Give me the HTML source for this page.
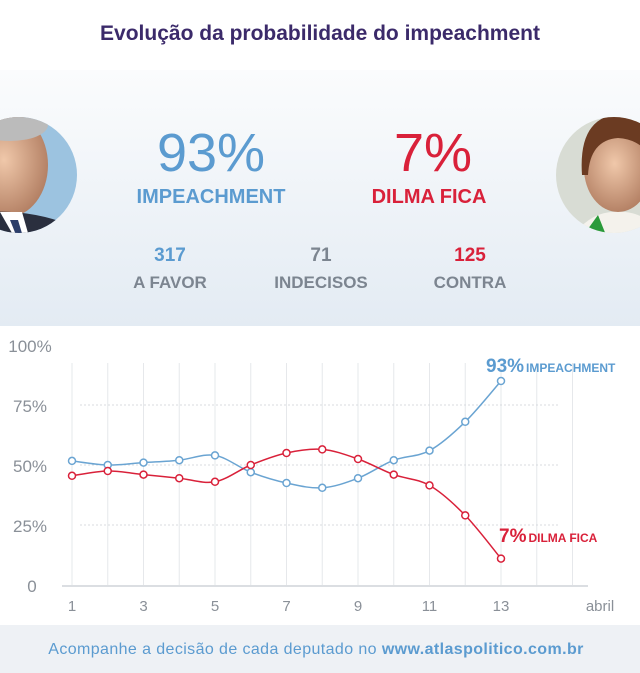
<!DOCTYPE html>
<html><head><meta charset="utf-8"><style>
body{margin:0;width:640px;height:673px;overflow:hidden;background:#fff;font-family:"Liberation Sans",sans-serif;position:relative}
.abs{position:absolute}
.c{transform:translateX(-50%);white-space:nowrap;text-align:center}
</style></head><body>
<div class="abs c" style="left:320px;top:22px;font-size:21px;font-weight:bold;color:#3b2a6a">Evolução da probabilidade do impeachment</div>
<div class="abs" style="left:0;top:70px;width:640px;height:256px;background:linear-gradient(#fbfcfd,#e3ebf3)"></div>
<svg class="abs" style="left:0;top:0" width="640" height="330">
<defs><radialGradient id="sk" cx="0.45" cy="0.45" r="0.6"><stop offset="0" stop-color="#f0c8aa"/><stop offset="1" stop-color="#b07c60"/></radialGradient>
<clipPath id="cl"><circle cx="19" cy="175" r="58"/></clipPath><clipPath id="cr"><circle cx="614" cy="175" r="58"/></clipPath></defs>
<g clip-path="url(#cl)"><rect x="-40" y="115" width="120" height="120" fill="#9cc3e0"/><ellipse cx="8" cy="165" rx="40" ry="52" fill="url(#sk)"/><ellipse cx="10" cy="125" rx="38" ry="16" fill="#bbb"/><path d="M-40 215 Q20 205 70 225 L70 240 L-40 240Z" fill="#2a2f3e"/><path d="M0 212 L16 240 L30 240 L22 212Z" fill="#fff"/><path d="M10 220 L18 240 L24 240 L18 220Z" fill="#2c3e6a"/></g>
<g clip-path="url(#cr)"><rect x="556" y="115" width="120" height="120" fill="#d8dcd4"/><ellipse cx="618" cy="168" rx="34" ry="44" fill="url(#sk)"/><path d="M582 175 Q578 118 618 114 Q660 116 656 175 Q650 140 618 138 Q590 140 588 175Z" fill="#6b3b22"/><path d="M570 240 Q590 210 618 212 Q645 210 670 240Z" fill="#f4f2ec"/><path d="M580 240 L598 215 L608 240Z" fill="#2a9a3a"/></g>
</svg>
<div class="abs c" style="left:211px;top:122px;font-size:54px;color:#5b9bd0;font-weight:300">93%</div>
<div class="abs c" style="left:211px;top:186px;font-size:20px;font-weight:bold;color:#5b9bd0">IMPEACHMENT</div>
<div class="abs c" style="left:433px;top:122px;font-size:54px;color:#d9213a">7%</div>
<div class="abs c" style="left:429px;top:186px;font-size:20px;font-weight:bold;color:#d9213a">DILMA FICA</div>
<div class="abs c" style="left:170px;top:245px;font-size:19px;font-weight:bold;color:#5b9bd0">317</div>
<div class="abs c" style="left:170px;top:273px;font-size:17px;font-weight:bold;color:#7c8590">A FAVOR</div>
<div class="abs c" style="left:321px;top:245px;font-size:19px;font-weight:bold;color:#7c8590">71</div>
<div class="abs c" style="left:321px;top:273px;font-size:17px;font-weight:bold;color:#7c8590">INDECISOS</div>
<div class="abs c" style="left:470px;top:245px;font-size:19px;font-weight:bold;color:#d9213a">125</div>
<div class="abs c" style="left:470px;top:273px;font-size:17px;font-weight:bold;color:#7c8590">CONTRA</div>
<svg id="chart" class="abs" style="left:0;top:330px" width="640" height="295"></svg>
<div class="abs" style="left:0;top:625px;width:640px;height:48px;background:#eef1f5"></div>
<div class="abs c" style="left:316px;top:641px;font-size:16px;color:#5b9bd0;letter-spacing:0.4px">Acompanhe a decisão de cada deputado no <b>www.atlaspolitico.com.br</b></div>
<script>
const days=[1,2,3,4,5,6,7,8,9,10,11,12,13];
const impeachment=[51.7,50,51,52,54,47,42.5,40.5,44.5,52,56,68,85];
const dilma=[45.5,47.5,46,44.5,43,50,55,56.5,52.5,46,41.5,29,11];
const yTicks=[0,25,50,75,100];
const yLabels=["0","25%","50%","75%","100%"];
const xTicks=[1,3,5,7,9,11,13];
const svg=document.getElementById('chart');
const NS='http://www.w3.org/2000/svg';
const X=d=>72+(d-1)*35.75;
const Y=v=>255-v*2.4;
function mk(t,a,p){const e=document.createElementNS(NS,t);for(const k in a)e.setAttribute(k,a[k]);(p||svg).appendChild(e);return e;}
for(let d=1;d<=15;d++){const l=mk('line',{x1:X(d),x2:X(d),y1:Y(100)+18,y2:Y(0),stroke:'#e6e8eb','stroke-width':1});

}
yTicks.forEach((v,i)=>{
 if(v>0&&v<100){const g=mk('line',{x1:80,x2:560,y1:Y(v),y2:Y(v),stroke:'#d8dbdf','stroke-dasharray':'2,2'});
 
 }
 const t=mk('text',{x:v===0?32:30,y:Y(v)+7,'text-anchor':'middle','font-size':17,fill:'#8a9098'});t.textContent=yLabels[i];
 
 
});
const ax=mk('line',{x1:62,x2:588,y1:Y(0)+1,y2:Y(0)+1,stroke:'#cfd3d8','stroke-width':1.5});


xTicks.forEach(d=>{const t=mk('text',{x:X(d),y:281,'text-anchor':'middle','font-size':15,fill:'#8a9098'});t.textContent=d;

});
const ab=mk('text',{x:600,y:281,'text-anchor':'middle','font-size':15,fill:'#8a9098'});ab.textContent='abril';


function path(vals){const p=vals.map((v,i)=>[X(days[i]),Y(v)]);let d='M'+p[0];
for(let i=0;i<p.length-1;i++){const p0=p[i-1]||p[i],p1=p[i],p2=p[i+1],p3=p[i+2]||p2;
d+=' C'+(p1[0]+(p2[0]-p0[0])/6)+','+(p1[1]+(p2[1]-p0[1])/6)+' '+(p2[0]-(p3[0]-p1[0])/6)+','+(p2[1]-(p3[1]-p1[1])/6)+' '+p2;}return d;}
function series(vals,col,name){const pl=mk('path',{d:path(vals),fill:'none',stroke:col,'stroke-width':1.5});


vals.forEach((v,i)=>{const c=mk('circle',{cx:X(days[i]),cy:Y(v),r:3.5,fill:'#fff',stroke:col,'stroke-width':1.5});

});}
series(impeachment,'#6aa4d2','impeachment');
series(dilma,'#d9213a','dilma-fica');
function lab(x,y,big,small,col,name){const t=mk('text',{x:x,y:y,fill:col,'font-weight':'bold'});
const a=mk('tspan',{'font-size':19},t);a.textContent=big;const b=mk('tspan',{'font-size':12,dx:2},t);b.textContent=small;

}
lab(486,42,'93%','IMPEACHMENT','#5b9bd0','impeachment-end-label');
lab(499,212,'7%','DILMA FICA','#d9213a','dilma-end-label');
</script>
</body></html>
